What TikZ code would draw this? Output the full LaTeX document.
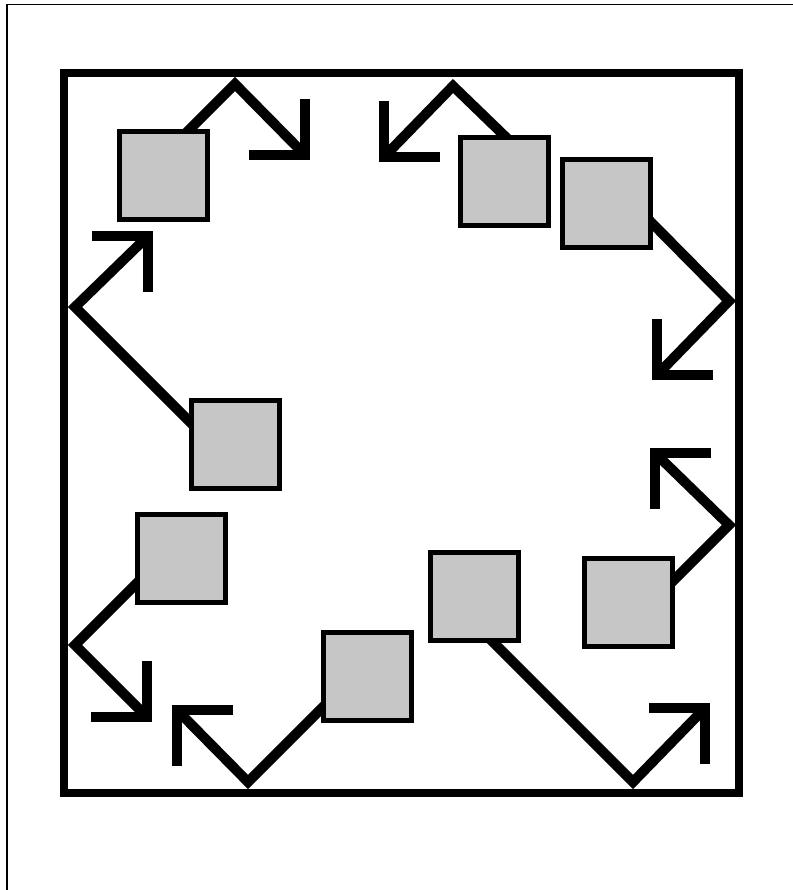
\documentclass[tikz,border=0pt]{standalone}
\usetikzlibrary{backgrounds}
\definecolor{boxgray}{RGB}{198,198,198}
\begin{document}
\begin{tikzpicture}[x=1pt,y=-1pt,
  box/.style={draw=black,line width=5pt,fill=boxgray,minimum size=88pt,inner sep=0pt,outer sep=0pt},
  shaft/.style={line width=10pt,line join=miter,line cap=butt},
  head/.style={line width=10pt,line join=miter,line cap=butt}]
\useasboundingbox (0,0) rectangle (792,890);
% squares
\node[box] (s1) at (163.5,175.5) {};
\node[box] (s2) at (504,182) {};
\node[box] (s3) at (606,204) {};
\node[box] (s4) at (235,444.5) {};
\node[box] (s5) at (181,558.5) {};
\node[box] (s6) at (367.5,676.5) {};
\node[box] (s7) at (474,596) {};
\node[box] (s8) at (628,602.5) {};
% bounce points and tips
\coordinate (aA) at (235,84);  \coordinate (tA) at (305,155);
\coordinate (aB) at (453,86);  \coordinate (tB) at (384,157);
\coordinate (aC) at (729,301); \coordinate (tC) at (657,375);
\coordinate (aD) at (75,307);  \coordinate (tD) at (148,236);
\coordinate (aE) at (75,645);  \coordinate (tE) at (147,717);
\coordinate (aF) at (248,782); \coordinate (tF) at (177,710);
\coordinate (aG) at (633,782); \coordinate (tG) at (705,708);
\coordinate (aH) at (729,525); \coordinate (tH) at (655,453);
\begin{scope}[on background layer]
\draw[line width=1.6pt] (7,900) -- (7,4.5) -- (800,4.5);
\draw[line width=8pt] (64,73) rectangle (739,793);
% shafts
\draw[shaft] ([shift={(15.5,-35.5)}]s1.center) -- (aA) -- (tA);
\draw[shaft] ([shift={(10,-37)}]s2.center) -- (aB) -- (tB);
\draw[shaft] ([shift={(37,10)}]s3.center) -- (aC) -- (tC);
\draw[shaft] ([shift={(-37,-14.5)}]s4.center) -- (aD) -- (tD);
\draw[shaft] ([shift={(-37,17.5)}]s5.center) -- (aE) -- (tE);
\draw[shaft] ([shift={(-36.5,22.5)}]s6.center) -- (aF) -- (tF);
\draw[shaft] ([shift={(10,37)}]s7.center) -- (aG) -- (tG);
\draw[shaft] ([shift={(37,-13.5)}]s8.center) -- (aH) -- (tH);
% open arrow heads
\draw[head] ([shift={(0,-56)}]tA) -- (tA) -- ([shift={(-56,0)}]tA);
\draw[head] ([shift={(0,-56)}]tB) -- (tB) -- ([shift={(56,0)}]tB);
\draw[head] ([shift={(0,-56)}]tC) -- (tC) -- ([shift={(56,0)}]tC);
\draw[head] ([shift={(0,56)}]tD) -- (tD) -- ([shift={(-56,0)}]tD);
\draw[head] ([shift={(0,-56)}]tE) -- (tE) -- ([shift={(-56,0)}]tE);
\draw[head] ([shift={(0,56)}]tF) -- (tF) -- ([shift={(56,0)}]tF);
\draw[head] ([shift={(0,56)}]tG) -- (tG) -- ([shift={(-56,0)}]tG);
\draw[head] ([shift={(0,56)}]tH) -- (tH) -- ([shift={(56,0)}]tH);
\end{scope}
\end{tikzpicture}
\end{document}
